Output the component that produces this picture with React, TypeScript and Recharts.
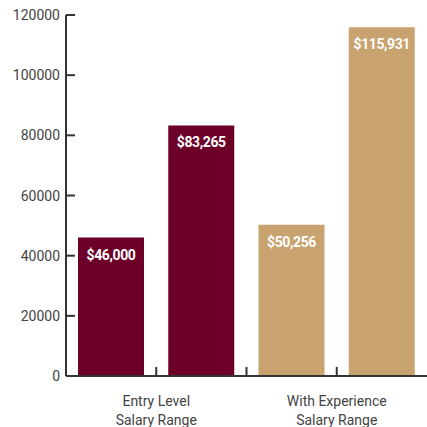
import React from "react";
import { BarChart, Bar, XAxis, YAxis, Cell, LabelList } from "recharts";

const barKeys = ["entryLow", "entryHigh", "expLow", "expHigh"];
const salaryValues = [46000, 83265, 50256, 115931];
const barColors = ["#6c0028", "#6c0028", "#c8a26f", "#c8a26f"];
const yTicks = [0, 20000, 40000, 60000, 80000, 100000, 120000];
const groupLabels: Record<number, string[]> = {
  0: ["Entry Level", "Salary Range"],
  2: ["With Experience", "Salary Range"],
};

const data = barKeys.map((k, i) => ({ name: k, value: salaryValues[i] }));

const W = 427;
const H = 427;
const Y_AXIS_W = 66;
const HALF_BAND = (W - Y_AXIS_W) / data.length / 2;

const FONT = "Roboto, 'Liberation Sans', sans-serif";

const fmt = (v: number) => "$" + v.toLocaleString("en-US");

const YTick = (props: any) => {
  const { x, y, payload } = props;
  return (
    <g>
      <line x1={x + 6} x2={x + 15} y1={y} y2={y} stroke="#333" strokeWidth={2} />
      <text x={x} y={y} dy="0.36em" textAnchor="end" fill="#444" fontSize={14} fontFamily={FONT}>
        {payload.value}
      </text>
    </g>
  );
};

const GroupTick = (props: any) => {
  const { x, y, index } = props;
  const bx = x + HALF_BAND;
  const lines = groupLabels[index];
  return (
    <g>
      {index < data.length - 1 && (
        <line x1={bx} x2={bx} y1={y} y2={y - 9} stroke="#333" strokeWidth={2} />
      )}
      {lines && (
        <text x={bx} y={y} textAnchor="middle" fill="#444" fontSize={14} fontFamily={FONT}>
          <tspan x={bx} dy={30}>{lines[0]}</tspan>
          <tspan x={bx} dy={19}>{lines[1]}</tspan>
        </text>
      )}
    </g>
  );
};

export default function App() {
  return (
    <div style={{ position: "absolute", left: 0, top: 0, width: W, height: H, background: "#fff" }}>
      <BarChart width={W} height={H} data={data} margin={{ top: 15, right: 0, bottom: 0, left: 0 }}>
        <XAxis
          dataKey="name"
          height={51}
          tickSize={0}
          tickMargin={0}
          tickLine={false}
          axisLine={{ stroke: "#333", strokeWidth: 2 }}
          tick={<GroupTick />}
          interval={0}
        />
        <YAxis
          domain={[0, 120000]}
          ticks={yTicks}
          width={Y_AXIS_W}
          tickSize={0}
          tickMargin={6}
          tickLine={false}
          axisLine={{ stroke: "#333", strokeWidth: 2 }}
          tick={<YTick />}
          interval={0}
        />
        <Bar dataKey="value" barSize={66} isAnimationActive={false}>
          {data.map((d, i) => (
            <Cell key={d.name} fill={barColors[i]} />
          ))}
          <LabelList
            dataKey="value"
            position="insideTop"
            offset={12}
            formatter={(v: any) => fmt(Number(v))}
            fill="#fff"
            fontSize={14}
            fontWeight="bold"
            letterSpacing={-0.4}
            fontFamily={FONT}
          />
        </Bar>
      </BarChart>
    </div>
  );
}
